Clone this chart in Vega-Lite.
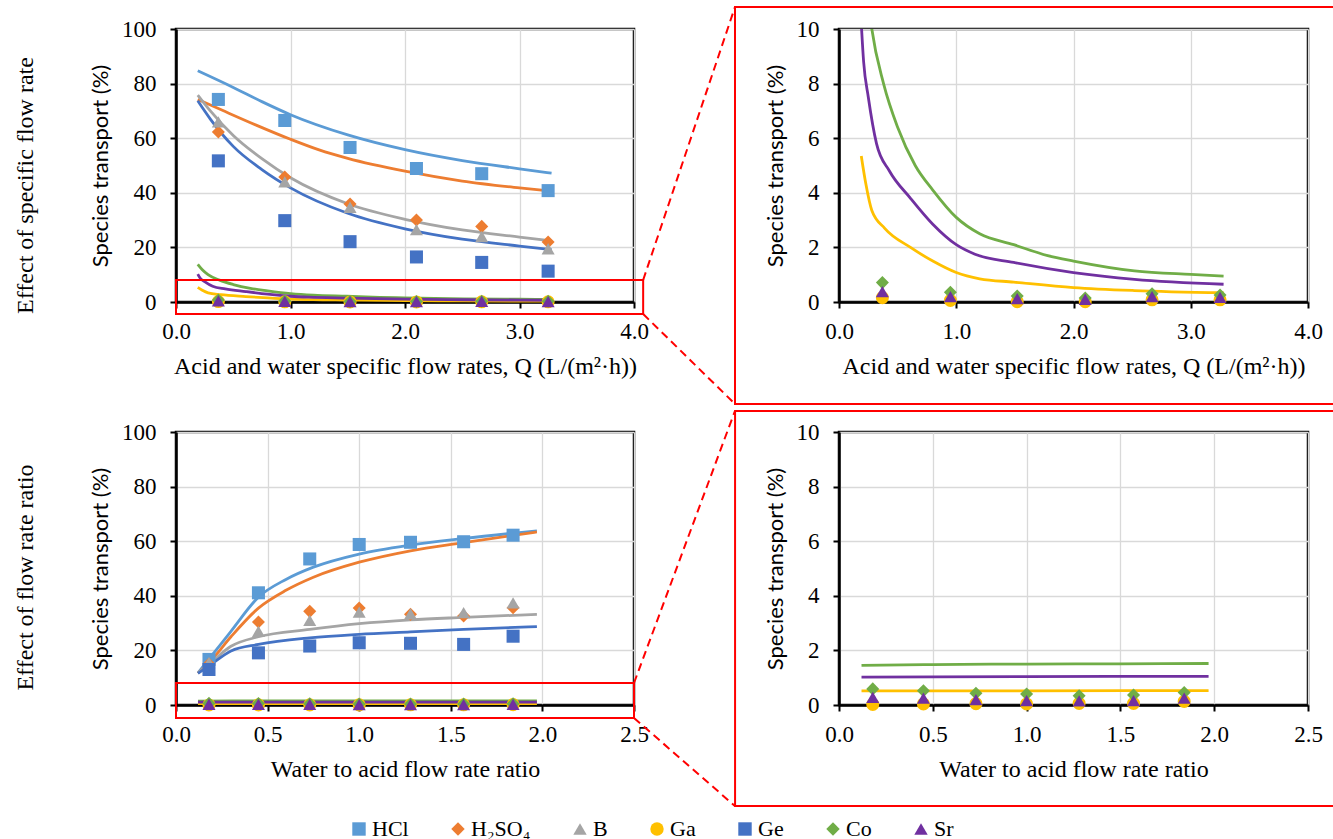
{
  "$schema": "https://vega.github.io/schema/vega-lite/v6.json",
  "background": "white",
  "padding": {"left": 11, "top": 4, "right": 0, "bottom": 0},
  "bounds": "flush",
  "columns": 2,
  "spacing": {"row": 130, "column": 205},
  "datasets": {
    "tlPts": [
      {"s":"HCl","x":0.37,"y":74.2},{"s":"HCl","x":0.95,"y":66.5},{"s":"HCl","x":1.52,"y":56.6},{"s":"HCl","x":2.10,"y":48.9},{"s":"HCl","x":2.67,"y":47.0},{"s":"HCl","x":3.25,"y":40.8},
      {"s":"H₂SO₄","x":0.37,"y":62.3},{"s":"H₂SO₄","x":0.95,"y":45.8},{"s":"H₂SO₄","x":1.52,"y":35.9},{"s":"H₂SO₄","x":2.10,"y":30.0},{"s":"H₂SO₄","x":2.67,"y":27.7},{"s":"H₂SO₄","x":3.25,"y":22.0},
      {"s":"B","x":0.37,"y":66.0},{"s":"B","x":0.95,"y":44.0},{"s":"B","x":1.52,"y":34.7},{"s":"B","x":2.10,"y":26.5},{"s":"B","x":2.67,"y":24.0},{"s":"B","x":3.25,"y":19.5},
      {"s":"Ga","x":0.37,"y":0.16},{"s":"Ga","x":0.95,"y":0.06},{"s":"Ga","x":1.52,"y":0.01},{"s":"Ga","x":2.10,"y":0.01},{"s":"Ga","x":2.67,"y":0.08},{"s":"Ga","x":3.25,"y":0.08},
      {"s":"Ge","x":0.37,"y":51.7},{"s":"Ge","x":0.95,"y":29.8},{"s":"Ge","x":1.52,"y":22.1},{"s":"Ge","x":2.10,"y":16.5},{"s":"Ge","x":2.67,"y":14.5},{"s":"Ge","x":3.25,"y":11.3},
      {"s":"Co","x":0.37,"y":0.71},{"s":"Co","x":0.95,"y":0.36},{"s":"Co","x":1.52,"y":0.22},{"s":"Co","x":2.10,"y":0.15},{"s":"Co","x":2.67,"y":0.30},{"s":"Co","x":3.25,"y":0.26},
      {"s":"Sr","x":0.37,"y":0.38},{"s":"Sr","x":0.95,"y":0.20},{"s":"Sr","x":1.52,"y":0.12},{"s":"Sr","x":2.10,"y":0.10},{"s":"Sr","x":2.67,"y":0.20},{"s":"Sr","x":3.25,"y":0.17}
    ],
    "tlCurve": [
      {"s":"HCl","x":0.19,"y":84.7},{"s":"HCl","x":0.5,"y":78.6},{"s":"HCl","x":0.75,"y":73.4},{"s":"HCl","x":1.0,"y":68.6},{"s":"HCl","x":1.5,"y":61.2},{"s":"HCl","x":2.0,"y":55.8},{"s":"HCl","x":2.5,"y":51.8},{"s":"HCl","x":3.0,"y":48.8},{"s":"HCl","x":3.28,"y":47.2},
      {"s":"H₂SO₄","x":0.19,"y":74.2},{"s":"H₂SO₄","x":0.4,"y":70.3},{"s":"H₂SO₄","x":0.7,"y":64.8},{"s":"H₂SO₄","x":1.0,"y":59.6},{"s":"H₂SO₄","x":1.25,"y":55.7},{"s":"H₂SO₄","x":1.5,"y":52.6},{"s":"H₂SO₄","x":2.0,"y":47.9},{"s":"H₂SO₄","x":2.5,"y":44.3},{"s":"H₂SO₄","x":3.0,"y":41.8},{"s":"H₂SO₄","x":3.28,"y":40.6},
      {"s":"B","x":0.19,"y":75.8},{"s":"B","x":0.3,"y":70.0},{"s":"B","x":0.5,"y":61.0},{"s":"B","x":0.75,"y":52.5},{"s":"B","x":1.0,"y":45.5},{"s":"B","x":1.5,"y":36.0},{"s":"B","x":2.0,"y":30.3},{"s":"B","x":2.5,"y":26.4},{"s":"B","x":3.0,"y":23.8},{"s":"B","x":3.28,"y":22.4},
      {"s":"Ga","x":0.19,"y":5.35},{"s":"Ga","x":0.23,"y":4.3},{"s":"Ga","x":0.28,"y":3.35},{"s":"Ga","x":0.39,"y":2.7},{"s":"Ga","x":0.61,"y":2.0},{"s":"Ga","x":0.8,"y":1.5},{"s":"Ga","x":1.0,"y":1.08},{"s":"Ga","x":1.2,"y":0.85},{"s":"Ga","x":1.49,"y":0.73},{"s":"Ga","x":2.0,"y":0.53},{"s":"Ga","x":2.52,"y":0.42},{"s":"Ga","x":3.28,"y":0.34},
      {"s":"Ge","x":0.19,"y":73.7},{"s":"Ge","x":0.3,"y":67.0},{"s":"Ge","x":0.5,"y":57.0},{"s":"Ge","x":0.75,"y":48.5},{"s":"Ge","x":1.0,"y":41.8},{"s":"Ge","x":1.5,"y":32.5},{"s":"Ge","x":2.0,"y":26.8},{"s":"Ge","x":2.5,"y":23.0},{"s":"Ge","x":3.0,"y":20.5},{"s":"Ge","x":3.28,"y":19.2},
      {"s":"Co","x":0.19,"y":13.8},{"s":"Co","x":0.23,"y":11.8},{"s":"Co","x":0.28,"y":10.0},{"s":"Co","x":0.38,"y":8.0},{"s":"Co","x":0.5,"y":6.4},{"s":"Co","x":0.65,"y":5.0},{"s":"Co","x":0.8,"y":4.1},{"s":"Co","x":1.0,"y":3.1},{"s":"Co","x":1.2,"y":2.5},{"s":"Co","x":1.49,"y":2.1},{"s":"Co","x":1.78,"y":1.7},{"s":"Co","x":2.0,"y":1.5},{"s":"Co","x":2.52,"y":1.14},{"s":"Co","x":3.0,"y":1.01},{"s":"Co","x":3.28,"y":0.95},
      {"s":"Sr","x":0.19,"y":10.2},{"s":"Sr","x":0.21,"y":8.8},{"s":"Sr","x":0.25,"y":7.5},{"s":"Sr","x":0.32,"y":5.8},{"s":"Sr","x":0.43,"y":4.8},{"s":"Sr","x":0.61,"y":3.8},{"s":"Sr","x":0.8,"y":2.85},{"s":"Sr","x":1.0,"y":2.1},{"s":"Sr","x":1.16,"y":1.75},{"s":"Sr","x":1.49,"y":1.45},{"s":"Sr","x":2.0,"y":1.08},{"s":"Sr","x":2.52,"y":0.83},{"s":"Sr","x":3.28,"y":0.65}
    ],
    "blPts": [
      {"s":"HCl","x":0.18,"y":16.7},{"s":"HCl","x":0.45,"y":41.1},{"s":"HCl","x":0.73,"y":53.5},{"s":"HCl","x":1.0,"y":58.8},{"s":"HCl","x":1.28,"y":59.6},{"s":"HCl","x":1.57,"y":59.8},{"s":"HCl","x":1.84,"y":62.2},
      {"s":"H₂SO₄","x":0.18,"y":15.0},{"s":"H₂SO₄","x":0.45,"y":30.4},{"s":"H₂SO₄","x":0.73,"y":34.3},{"s":"H₂SO₄","x":1.0,"y":35.5},{"s":"H₂SO₄","x":1.28,"y":33.2},{"s":"H₂SO₄","x":1.57,"y":32.6},{"s":"H₂SO₄","x":1.84,"y":35.6},
      {"s":"B","x":0.18,"y":15.5},{"s":"B","x":0.45,"y":27.0},{"s":"B","x":0.73,"y":31.0},{"s":"B","x":1.0,"y":34.0},{"s":"B","x":1.28,"y":33.4},{"s":"B","x":1.57,"y":33.8},{"s":"B","x":1.84,"y":37.4},
      {"s":"Ga","x":0.18,"y":0.02},{"s":"Ga","x":0.45,"y":0.04},{"s":"Ga","x":0.73,"y":0.05},{"s":"Ga","x":1.0,"y":0.04},{"s":"Ga","x":1.28,"y":0.06},{"s":"Ga","x":1.57,"y":0.06},{"s":"Ga","x":1.84,"y":0.13},
      {"s":"Ge","x":0.18,"y":13.0},{"s":"Ge","x":0.45,"y":19.1},{"s":"Ge","x":0.73,"y":21.6},{"s":"Ge","x":1.0,"y":22.8},{"s":"Ge","x":1.28,"y":22.6},{"s":"Ge","x":1.57,"y":22.2},{"s":"Ge","x":1.84,"y":25.2},
      {"s":"Co","x":0.18,"y":0.59},{"s":"Co","x":0.45,"y":0.52},{"s":"Co","x":0.73,"y":0.43},{"s":"Co","x":1.0,"y":0.40},{"s":"Co","x":1.28,"y":0.34},{"s":"Co","x":1.57,"y":0.37},{"s":"Co","x":1.84,"y":0.46},
      {"s":"Sr","x":0.18,"y":0.28},{"s":"Sr","x":0.45,"y":0.25},{"s":"Sr","x":0.73,"y":0.20},{"s":"Sr","x":1.0,"y":0.16},{"s":"Sr","x":1.28,"y":0.15},{"s":"Sr","x":1.57,"y":0.16},{"s":"Sr","x":1.84,"y":0.25}
    ],
    "blCurve": [
      {"s":"HCl","x":0.12,"y":11.8},{"s":"HCl","x":0.2,"y":18.5},{"s":"HCl","x":0.3,"y":27.0},{"s":"HCl","x":0.45,"y":39.5},{"s":"HCl","x":0.6,"y":46.0},{"s":"HCl","x":0.75,"y":50.5},{"s":"HCl","x":1.0,"y":55.3},{"s":"HCl","x":1.28,"y":58.6},{"s":"HCl","x":1.57,"y":61.0},{"s":"HCl","x":1.97,"y":63.8},
      {"s":"H₂SO₄","x":0.12,"y":11.6},{"s":"H₂SO₄","x":0.2,"y":17.0},{"s":"H₂SO₄","x":0.3,"y":25.0},{"s":"H₂SO₄","x":0.45,"y":35.5},{"s":"H₂SO₄","x":0.6,"y":42.0},{"s":"H₂SO₄","x":0.75,"y":46.8},{"s":"H₂SO₄","x":1.0,"y":52.3},{"s":"H₂SO₄","x":1.28,"y":56.5},{"s":"H₂SO₄","x":1.57,"y":59.5},{"s":"H₂SO₄","x":1.97,"y":63.4},
      {"s":"B","x":0.12,"y":11.8},{"s":"B","x":0.18,"y":14.9},{"s":"B","x":0.3,"y":21.5},{"s":"B","x":0.45,"y":25.0},{"s":"B","x":0.73,"y":27.7},{"s":"B","x":1.0,"y":29.8},{"s":"B","x":1.28,"y":31.2},{"s":"B","x":1.57,"y":32.1},{"s":"B","x":1.97,"y":33.2},
      {"s":"Ga","x":0.12,"y":0.52},{"s":"Ga","x":1.0,"y":0.52},{"s":"Ga","x":1.97,"y":0.53},
      {"s":"Ge","x":0.12,"y":11.6},{"s":"Ge","x":0.18,"y":14.3},{"s":"Ge","x":0.3,"y":19.8},{"s":"Ge","x":0.45,"y":22.2},{"s":"Ge","x":0.73,"y":24.6},{"s":"Ge","x":1.0,"y":25.9},{"s":"Ge","x":1.28,"y":26.8},{"s":"Ge","x":1.57,"y":27.7},{"s":"Ge","x":1.97,"y":28.7},
      {"s":"Co","x":0.12,"y":1.45},{"s":"Co","x":0.5,"y":1.48},{"s":"Co","x":1.0,"y":1.5},{"s":"Co","x":1.5,"y":1.51},{"s":"Co","x":1.97,"y":1.52},
      {"s":"Sr","x":0.12,"y":1.02},{"s":"Sr","x":1.0,"y":1.04},{"s":"Sr","x":1.97,"y":1.05}
    ]
  },
  "concat": [
    {
      "width": 458, "height": 273,
      "resolve": {"axis": {"y": "independent"}},
      "layer": [
        {
          "data": {"name": "tlCurve"},
          "mark": {"type": "line", "interpolate": "monotone", "strokeWidth": 2.8},
          "encoding": {
            "x": {"field": "x", "type": "quantitative", "scale": {"domain": [0, 4], "nice": false, "zero": false}, "axis": {"values": [0, 1, 2, 3, 4], "format": ".1f", "title": "Acid and water specific flow rates, Q (L/(m²·h))", "labelFont": "Liberation Serif", "labelFontSize": 23, "labelPadding": 12, "labelFlush": false, "titleFont": "Liberation Serif", "titleFontSize": 24, "titlePadding": 11}},
            "y": {"field": "y", "type": "quantitative", "scale": {"domain": [0, 100], "nice": false}, "axis": {"values": [0, 20, 40, 60, 80, 100], "title": "Species transport (%)", "labelFont": "Liberation Serif", "labelFontSize": 23, "labelPadding": 14, "titleFont": "Lato", "titleFontSize": 22, "titlePadding": 9}},
            "stroke": {"field": "s", "type": "nominal", "scale": {"domain": ["Sr","Co","Ge","Ga","B","H₂SO₄","HCl"], "range": ["#7030A0","#70AD47","#4472C4","#FFC000","#A5A5A5","#ED7D31","#5B9BD5"]}, "legend": null}
          }
        },
        {
          "data": {"name": "tlPts"},
          "mark": {"type": "point", "filled": true, "size": 170, "opacity": 1, "strokeWidth": 0},
          "encoding": {
            "x": {"field": "x", "type": "quantitative", "scale": {"domain": [0, 4], "nice": false, "zero": false}},
            "y": {"field": "y", "type": "quantitative", "scale": {"domain": [0, 100], "nice": false}, "axis": null},
            "color": {"field": "s", "type": "nominal", "scale": {"domain": ["HCl","H₂SO₄","B","Ga","Ge","Co","Sr"], "range": ["#5B9BD5","#ED7D31","#A5A5A5","#FFC000","#4472C4","#70AD47","#7030A0"]}, "legend": {"title": null, "labelFont": "Liberation Serif", "labelFontSize": 22, "symbolSize": 180, "labelOffset": 2, "columnPadding": 38}},
            "shape": {"field": "s", "type": "nominal", "scale": {"domain": ["HCl","H₂SO₄","B","Ga","Ge","Co","Sr"], "range": ["square","diamond","triangle-up","circle","square","diamond","triangle-up"]}, "legend": {"title": null, "labelFont": "Liberation Serif", "labelFontSize": 22, "symbolSize": 180, "labelOffset": 2, "columnPadding": 38}}
          }
        },
        {
          "data": {"values": [{}]},
          "mark": {"type": "rect", "filled": false, "stroke": "#FF0000", "strokeWidth": 2},
          "encoding": {
            "x": {"datum": 0, "type": "quantitative", "scale": {"domain": [0, 4], "nice": false, "zero": false}},
            "x2": {"datum": 4.08},
            "y": {"datum": 8.06, "type": "quantitative", "scale": {"domain": [0, 100], "nice": false}, "axis": {"title": "Effect of specific flow rate", "orient": "left", "labels": false, "ticks": false, "domain": false, "grid": false, "titleFont": "Liberation Serif", "titleFontSize": 24, "titlePadding": 139, "titleY": 156}},
            "y2": {"datum": -4.4}
          }
        },
        {
          "data": {"values": [{}]},
          "mark": {"type": "rule", "stroke": "#FF0000", "strokeWidth": 2, "strokeDash": [8, 5]},
          "encoding": {
            "x": {"datum": 4.08, "type": "quantitative", "scale": {"domain": [0, 4], "nice": false, "zero": false}},
            "x2": {"datum": 4.882},
            "y": {"datum": 8.06, "type": "quantitative", "scale": {"domain": [0, 100], "nice": false}, "axis": null},
            "y2": {"datum": 108.06}
          }
        },
        {
          "data": {"values": [{}]},
          "mark": {"type": "rule", "stroke": "#FF0000", "strokeWidth": 2, "strokeDash": [8, 5]},
          "encoding": {
            "x": {"datum": 4.08, "type": "quantitative", "scale": {"domain": [0, 4], "nice": false, "zero": false}},
            "x2": {"datum": 4.882},
            "y": {"datum": -4.4, "type": "quantitative", "scale": {"domain": [0, 100], "nice": false}, "axis": null},
            "y2": {"datum": -37.36}
          }
        }
      ]
    },
    {
      "width": 469, "height": 273,
      "layer": [
        {
          "data": {"name": "tlCurve"},
          "transform": [{"filter": {"field": "s", "oneOf": ["Ga", "Co", "Sr"]}}],
          "mark": {"type": "line", "interpolate": "monotone", "strokeWidth": 2.8, "clip": true},
          "encoding": {
            "x": {"field": "x", "type": "quantitative", "scale": {"domain": [0, 4], "nice": false, "zero": false}, "axis": {"values": [0, 1, 2, 3, 4], "format": ".1f", "title": "Acid and water specific flow rates, Q (L/(m²·h))", "labelFont": "Liberation Serif", "labelFontSize": 23, "labelPadding": 12, "labelFlush": false, "titleFont": "Liberation Serif", "titleFontSize": 24, "titlePadding": 11}},
            "y": {"field": "y", "type": "quantitative", "scale": {"domain": [0, 10], "nice": false}, "axis": {"values": [0, 2, 4, 6, 8, 10], "title": "Species transport (%)", "labelFont": "Liberation Serif", "labelFontSize": 23, "labelPadding": 14, "titleFont": "Lato", "titleFontSize": 22, "titlePadding": 9}},
            "stroke": {"field": "s", "type": "nominal", "scale": {"domain": ["Sr","Co","Ge","Ga","B","H₂SO₄","HCl"], "range": ["#7030A0","#70AD47","#4472C4","#FFC000","#A5A5A5","#ED7D31","#5B9BD5"]}, "legend": null}
          }
        },
        {
          "data": {"name": "tlPts"},
          "transform": [{"filter": {"field": "s", "oneOf": ["Ga", "Co", "Sr"]}}],
          "mark": {"type": "point", "filled": true, "size": 170, "opacity": 1, "strokeWidth": 0},
          "encoding": {
            "x": {"field": "x", "type": "quantitative", "scale": {"domain": [0, 4], "nice": false, "zero": false}},
            "y": {"field": "y", "type": "quantitative", "scale": {"domain": [0, 10], "nice": false}},
            "color": {"field": "s", "type": "nominal", "scale": {"domain": ["HCl","H₂SO₄","B","Ga","Ge","Co","Sr"], "range": ["#5B9BD5","#ED7D31","#A5A5A5","#FFC000","#4472C4","#70AD47","#7030A0"]}, "legend": {"title": null, "labelFont": "Liberation Serif", "labelFontSize": 22, "symbolSize": 180, "labelOffset": 2, "columnPadding": 38}},
            "shape": {"field": "s", "type": "nominal", "scale": {"domain": ["HCl","H₂SO₄","B","Ga","Ge","Co","Sr"], "range": ["square","diamond","triangle-up","circle","square","diamond","triangle-up"]}, "legend": {"title": null, "labelFont": "Liberation Serif", "labelFontSize": 22, "symbolSize": 180, "labelOffset": 2, "columnPadding": 38}}
          }
        },
        {
          "data": {"values": [{}]},
          "mark": {"type": "rect", "filled": false, "stroke": "#FF0000", "strokeWidth": 2},
          "encoding": {
            "x": {"datum": -0.887, "type": "quantitative", "scale": {"domain": [0, 4], "nice": false, "zero": false}},
            "x2": {"datum": 4.29},
            "y": {"datum": 10.806, "type": "quantitative", "scale": {"domain": [0, 10], "nice": false}},
            "y2": {"datum": -3.736}
          }
        }
      ]
    },
    {
      "width": 458, "height": 273,
      "resolve": {"axis": {"y": "independent"}},
      "layer": [
        {
          "data": {"name": "blCurve"},
          "mark": {"type": "line", "interpolate": "monotone", "strokeWidth": 2.8},
          "encoding": {
            "x": {"field": "x", "type": "quantitative", "scale": {"domain": [0, 2.5], "nice": false, "zero": false}, "axis": {"values": [0, 0.5, 1, 1.5, 2, 2.5], "format": ".1f", "title": "Water to acid flow rate ratio", "labelFont": "Liberation Serif", "labelFontSize": 23, "labelPadding": 12, "labelFlush": false, "titleFont": "Liberation Serif", "titleFontSize": 24, "titlePadding": 11}},
            "y": {"field": "y", "type": "quantitative", "scale": {"domain": [0, 100], "nice": false}, "axis": {"values": [0, 20, 40, 60, 80, 100], "title": "Species transport (%)", "labelFont": "Liberation Serif", "labelFontSize": 23, "labelPadding": 14, "titleFont": "Lato", "titleFontSize": 22, "titlePadding": 9}},
            "stroke": {"field": "s", "type": "nominal", "scale": {"domain": ["Sr","Co","Ge","Ga","B","H₂SO₄","HCl"], "range": ["#7030A0","#70AD47","#4472C4","#FFC000","#A5A5A5","#ED7D31","#5B9BD5"]}, "legend": null}
          }
        },
        {
          "data": {"name": "blPts"},
          "mark": {"type": "point", "filled": true, "size": 170, "opacity": 1, "strokeWidth": 0},
          "encoding": {
            "x": {"field": "x", "type": "quantitative", "scale": {"domain": [0, 2.5], "nice": false, "zero": false}},
            "y": {"field": "y", "type": "quantitative", "scale": {"domain": [0, 100], "nice": false}, "axis": null},
            "color": {"field": "s", "type": "nominal", "scale": {"domain": ["HCl","H₂SO₄","B","Ga","Ge","Co","Sr"], "range": ["#5B9BD5","#ED7D31","#A5A5A5","#FFC000","#4472C4","#70AD47","#7030A0"]}, "legend": {"title": null, "labelFont": "Liberation Serif", "labelFontSize": 22, "symbolSize": 180, "labelOffset": 2, "columnPadding": 38}},
            "shape": {"field": "s", "type": "nominal", "scale": {"domain": ["HCl","H₂SO₄","B","Ga","Ge","Co","Sr"], "range": ["square","diamond","triangle-up","circle","square","diamond","triangle-up"]}, "legend": {"title": null, "labelFont": "Liberation Serif", "labelFontSize": 22, "symbolSize": 180, "labelOffset": 2, "columnPadding": 38}}
          }
        },
        {
          "data": {"values": [{}]},
          "mark": {"type": "rect", "filled": false, "stroke": "#FF0000", "strokeWidth": 2},
          "encoding": {
            "x": {"datum": 0, "type": "quantitative", "scale": {"domain": [0, 2.5], "nice": false, "zero": false}},
            "x2": {"datum": 2.5},
            "y": {"datum": 8.06, "type": "quantitative", "scale": {"domain": [0, 100], "nice": false}, "axis": {"title": "Effect of flow rate ratio", "orient": "left", "labels": false, "ticks": false, "domain": false, "grid": false, "titleFont": "Liberation Serif", "titleFontSize": 24, "titlePadding": 139, "titleY": 145}},
            "y2": {"datum": -4.76}
          }
        },
        {
          "data": {"values": [{}]},
          "mark": {"type": "rule", "stroke": "#FF0000", "strokeWidth": 2, "strokeDash": [8, 5]},
          "encoding": {
            "x": {"datum": 2.5, "type": "quantitative", "scale": {"domain": [0, 2.5], "nice": false, "zero": false}},
            "x2": {"datum": 3.051},
            "y": {"datum": 8.06, "type": "quantitative", "scale": {"domain": [0, 100], "nice": false}, "axis": null},
            "y2": {"datum": 107.7}
          }
        },
        {
          "data": {"values": [{}]},
          "mark": {"type": "rule", "stroke": "#FF0000", "strokeWidth": 2, "strokeDash": [8, 5]},
          "encoding": {
            "x": {"datum": 2.5, "type": "quantitative", "scale": {"domain": [0, 2.5], "nice": false, "zero": false}},
            "x2": {"datum": 3.051},
            "y": {"datum": -4.76, "type": "quantitative", "scale": {"domain": [0, 100], "nice": false}, "axis": null},
            "y2": {"datum": -37.0}
          }
        }
      ]
    },
    {
      "width": 469, "height": 273,
      "layer": [
        {
          "data": {"name": "blCurve"},
          "transform": [{"filter": {"field": "s", "oneOf": ["Ga", "Co", "Sr"]}}],
          "mark": {"type": "line", "interpolate": "monotone", "strokeWidth": 2.8, "clip": true},
          "encoding": {
            "x": {"field": "x", "type": "quantitative", "scale": {"domain": [0, 2.5], "nice": false, "zero": false}, "axis": {"values": [0, 0.5, 1, 1.5, 2, 2.5], "format": ".1f", "title": "Water to acid flow rate ratio", "labelFont": "Liberation Serif", "labelFontSize": 23, "labelPadding": 12, "labelFlush": false, "titleFont": "Liberation Serif", "titleFontSize": 24, "titlePadding": 11}},
            "y": {"field": "y", "type": "quantitative", "scale": {"domain": [0, 10], "nice": false}, "axis": {"values": [0, 2, 4, 6, 8, 10], "title": "Species transport (%)", "labelFont": "Liberation Serif", "labelFontSize": 23, "labelPadding": 14, "titleFont": "Lato", "titleFontSize": 22, "titlePadding": 9}},
            "stroke": {"field": "s", "type": "nominal", "scale": {"domain": ["Sr","Co","Ge","Ga","B","H₂SO₄","HCl"], "range": ["#7030A0","#70AD47","#4472C4","#FFC000","#A5A5A5","#ED7D31","#5B9BD5"]}, "legend": null}
          }
        },
        {
          "data": {"name": "blPts"},
          "transform": [{"filter": {"field": "s", "oneOf": ["Ga", "Co", "Sr"]}}],
          "mark": {"type": "point", "filled": true, "size": 170, "opacity": 1, "strokeWidth": 0},
          "encoding": {
            "x": {"field": "x", "type": "quantitative", "scale": {"domain": [0, 2.5], "nice": false, "zero": false}},
            "y": {"field": "y", "type": "quantitative", "scale": {"domain": [0, 10], "nice": false}},
            "color": {"field": "s", "type": "nominal", "scale": {"domain": ["HCl","H₂SO₄","B","Ga","Ge","Co","Sr"], "range": ["#5B9BD5","#ED7D31","#A5A5A5","#FFC000","#4472C4","#70AD47","#7030A0"]}, "legend": {"title": null, "labelFont": "Liberation Serif", "labelFontSize": 22, "symbolSize": 180, "labelOffset": 2, "columnPadding": 38}},
            "shape": {"field": "s", "type": "nominal", "scale": {"domain": ["HCl","H₂SO₄","B","Ga","Ge","Co","Sr"], "range": ["square","diamond","triangle-up","circle","square","diamond","triangle-up"]}, "legend": {"title": null, "labelFont": "Liberation Serif", "labelFontSize": 22, "symbolSize": 180, "labelOffset": 2, "columnPadding": 38}}
          }
        },
        {
          "data": {"values": [{}]},
          "mark": {"type": "rect", "filled": false, "stroke": "#FF0000", "strokeWidth": 2},
          "encoding": {
            "x": {"datum": -0.554, "type": "quantitative", "scale": {"domain": [0, 2.5], "nice": false, "zero": false}},
            "x2": {"datum": 2.68},
            "y": {"datum": 10.769, "type": "quantitative", "scale": {"domain": [0, 10], "nice": false}},
            "y2": {"datum": -3.70}
          }
        }
      ]
    }
  ],
  "config": {
    "font": "Liberation Serif",
    "view": {"stroke": "black", "strokeWidth": 2.5},
    "style": {"guide-label": {"font": "Liberation Serif", "fill": "black"}},
    "axis": {
      "labelFont": "Liberation Serif", "labelFontSize": 23, "labelColor": "black",
      "titleFont": "Liberation Serif", "titleFontSize": 24, "titleFontWeight": "normal", "titleColor": "black",
      "tickColor": "black", "tickWidth": 2, "tickSize": 6,
      "domainColor": "black", "domainWidth": 2.5,
      "gridColor": "#d9d9d9", "gridWidth": 1.3
    },
    "axisX": {"labelPadding": 12, "titlePadding": 11, "labelFlush": false},
    "axisY": {"labelPadding": 14, "titlePadding": 9},
    "legend": {
      "orient": "none", "legendX": 172, "legendY": 789, "direction": "horizontal",
      "labelFont": "Liberation Serif", "labelFontSize": 22, "labelColor": "black",
      "symbolSize": 180, "symbolStrokeWidth": 0, "columnPadding": 38, "labelOffset": 2, "padding": 0
    }
  }
}
